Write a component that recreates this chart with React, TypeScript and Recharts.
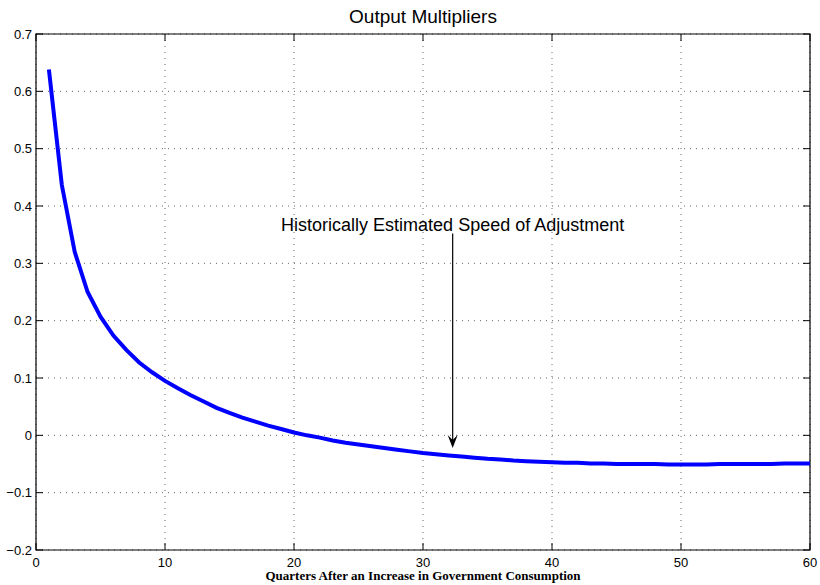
import React from "react";
import {
  LineChart,
  Line,
  XAxis,
  YAxis,
  CartesianGrid,
  ReferenceArea,
  ReferenceLine,
} from "recharts";

// quarters after the shock
const quarters = [
  1, 2, 3, 4, 5, 6, 7, 8, 9, 10, 11, 12, 13, 14, 15, 16, 17, 18, 19, 20,
  21, 22, 23, 24, 25, 26, 27, 28, 29, 30, 31, 32, 33, 34, 35, 36, 37, 38, 39, 40,
  41, 42, 43, 44, 45, 46, 47, 48, 49, 50, 51, 52, 53, 54, 55, 56, 57, 58, 59, 60,
];

// output multiplier per quarter
const multipliers = [
  0.638, 0.437, 0.32, 0.25, 0.207, 0.174, 0.149, 0.127, 0.11, 0.095,
  0.082, 0.07, 0.059, 0.048, 0.039, 0.031, 0.024, 0.017, 0.011, 0.005,
  0.0, -0.004, -0.009, -0.013, -0.016, -0.019, -0.022, -0.025, -0.028, -0.031,
  -0.033, -0.035, -0.037, -0.039, -0.041, -0.042, -0.044, -0.045, -0.046, -0.047,
  -0.048, -0.048, -0.049, -0.049, -0.05, -0.05, -0.05, -0.05, -0.051, -0.051,
  -0.051, -0.051, -0.05, -0.05, -0.05, -0.05, -0.05, -0.049, -0.049, -0.049,
];

const xTicks = [0, 10, 20, 30, 40, 50, 60];
const yTicks = [-0.2, -0.1, 0, 0.1, 0.2, 0.3, 0.4, 0.5, 0.6, 0.7];

// arrow annotation (data coords)
const noteText = "Historically Estimated Speed of Adjustment";
const noteX = 32.3;
const noteTop = 0.352;
const noteTip = -0.022;

const data = quarters.map((q, i) => ({ q, m: multipliers[i] }));

const W = 820;
const H = 585;
const LEFT = 36;
const RIGHT = 810;
const TOP = 34;
const BOTTOM = 550;
const TICK = 7;
const SANS = "'Liberation Sans', Arial, Helvetica, sans-serif";

const fmtY = (v: number) => {
  if (Math.abs(v) < 1e-9) return "0";
  const s = v.toFixed(1);
  return v < 0 ? "\u2212" + s.slice(1) : s;
};

const XTick = (props: any) => {
  const x = props.payload.coordinate;
  return (
    <g>
      <line x1={x} x2={x} y1={BOTTOM} y2={BOTTOM - TICK} stroke="#000" />
      <line x1={x} x2={x} y1={TOP} y2={TOP + TICK} stroke="#000" />
      <text x={x} y={567} textAnchor="middle" fontSize={13} fontFamily={SANS} fill="#000">
        {String(props.payload.value)}
      </text>
    </g>
  );
};

const YTick = (props: any) => {
  const y = props.payload.coordinate;
  return (
    <g>
      <line x1={LEFT} x2={LEFT + TICK} y1={y} y2={y} stroke="#000" />
      <line x1={RIGHT} x2={RIGHT - TICK} y1={y} y2={y} stroke="#000" />
      <text x={LEFT - 4} y={y + 4.5} textAnchor="end" fontSize={13} fontFamily={SANS} fill="#000">
        {fmtY(props.payload.value)}
      </text>
    </g>
  );
};

const Arrow = (props: any) => {
  const { x1, y1, x2, y2 } = props;
  return (
    <g>
      <line x1={x1} y1={y1} x2={x2} y2={y2 - 8} stroke="#000" strokeWidth={1.2} />
      <polygon
        points={`${x2 - 5},${y2 - 13} ${x2},${y2} ${x2 + 5},${y2 - 13} ${x2},${y2 - 8}`}
        fill="#000"
      />
      <text x={x1} y={y1 - 3} textAnchor="middle" fontSize={18} fontFamily={SANS} fill="#000">
        {noteText}
      </text>
    </g>
  );
};

export default function App() {
  return (
    <div style={{ position: "absolute", left: 0, top: 0, background: "#fff" }}>
      <LineChart
        width={W}
        height={H}
        data={data}
        margin={{ top: TOP, right: W - RIGHT, bottom: 0, left: 0 }}
      >
        <CartesianGrid stroke="#666" strokeDasharray="1 5" />
        <XAxis
          dataKey="q"
          type="number"
          domain={[0, 60]}
          ticks={xTicks}
          height={H - BOTTOM}
          tickLine={false}
          axisLine={false}
          tick={<XTick />}
          interval={0}
          label={{
            value: "Quarters After an Increase in Government Consumption",
            position: "insideBottom",
            offset: 5,
            style: {
              fontFamily: "'Liberation Serif', 'Times New Roman', serif",
              fontWeight: "bold",
              fontSize: 13,
              fill: "#000",
            },
          }}
        />
        <YAxis
          type="number"
          domain={[-0.2, 0.7]}
          ticks={yTicks}
          width={LEFT}
          tickLine={false}
          axisLine={false}
          tick={<YTick />}
          interval={0}
        />
        <ReferenceArea
          x1={0}
          x2={60}
          y1={-0.2}
          y2={0.7}
          fill="none"
          stroke="#000"
          strokeWidth={1.2}
          label={{
            value: "Output Multipliers",
            position: "top",
            offset: 11,
            style: { fontFamily: SANS, fontSize: 19, fill: "#000" },
          }}
        />
        <ReferenceLine
          segment={[
            { x: noteX, y: noteTop },
            { x: noteX, y: noteTip },
          ]}
          shape={<Arrow />}
        />
        <Line
          dataKey="m"
          type="linear"
          stroke="#0000ff"
          strokeWidth={4}
          dot={false}
          isAnimationActive={false}
        />
      </LineChart>
    </div>
  );
}
